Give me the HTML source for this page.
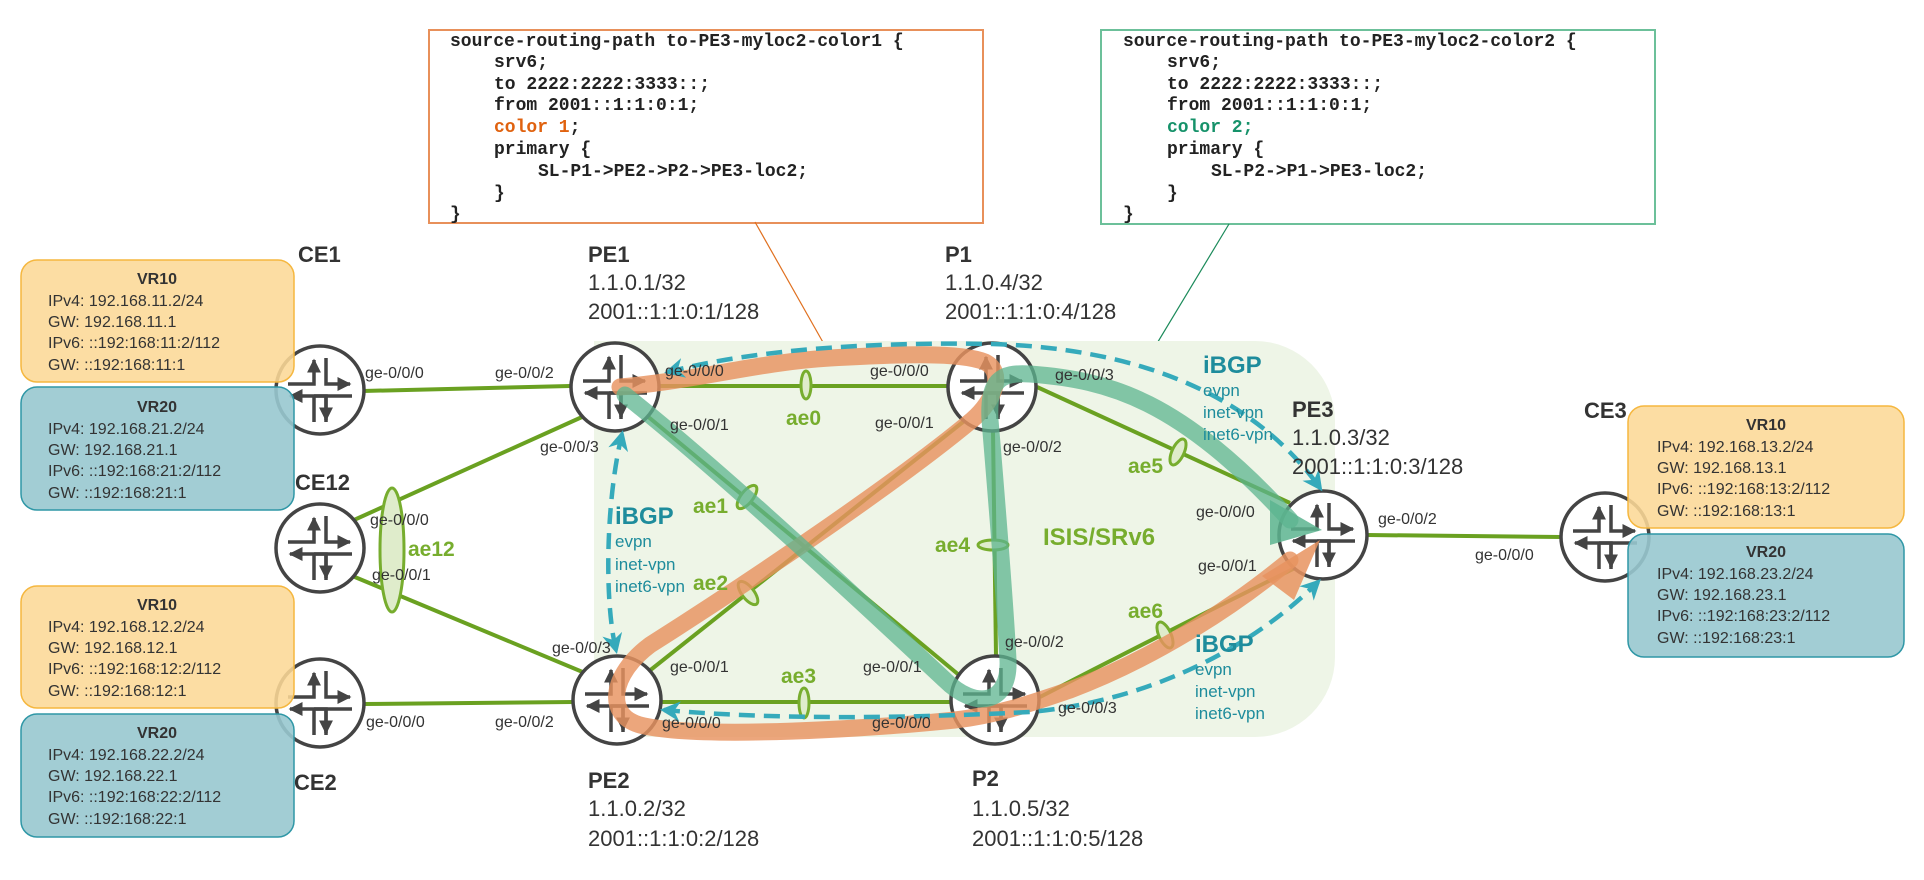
<!DOCTYPE html>
<html><head><meta charset="utf-8"><style>
html,body{margin:0;padding:0;background:#fff}
svg{display:block}
text{font-family:"Liberation Sans",sans-serif}
.mono text{font-family:"Liberation Mono",monospace;font-weight:bold;font-size:18px;fill:#222}
.if{font-size:16px;fill:#333}
.nm{font-size:22px;font-weight:bold;fill:#333}
.ad{font-size:22px;fill:#333}
.ae{font-size:21px;font-weight:bold;fill:#77ad2e}
.bg{font-size:24px;font-weight:bold;fill:#1e8c9c}
.bs{font-size:17px;fill:#1e8c9c}
.vt{font-size:16px;font-weight:bold;fill:#333}
.vl{font-size:16px;fill:#333}
</style></head><body>
<svg width="1924" height="880" viewBox="0 0 1924 880" xmlns="http://www.w3.org/2000/svg">
<defs>
<marker id="ar" viewBox="0 0 10 10" refX="9" refY="5" markerWidth="4" markerHeight="4" orient="auto-start-reverse"><path d="M0,0 L10,5 L0,10 z" fill="#444"/></marker>
<marker id="da" viewBox="0 0 10 10" refX="8" refY="5" markerWidth="4.5" markerHeight="4.5" orient="auto-start-reverse"><path d="M0,0 L10,5 L0,10 L3,5 z" fill="#35aabb"/></marker>
<g id="rt">
<circle r="44" fill="#fff" stroke="#444" stroke-width="3.5"/>
<g stroke="#444" stroke-width="3.5" fill="none">
<path d="M-32,-6 H-6 V-30" marker-end="url(#ar)"/>
<path d="M6,-32 V-6 H30" marker-end="url(#ar)"/>
<path d="M6,32 V6 H-30" marker-end="url(#ar)"/>
<path d="M32,6 H-6 M-6,6 V32" />
<path d="M6,6 V30" marker-end="url(#ar)"/>
</g>
</g>
</defs>

<!-- code boxes -->
<rect x="429" y="30" width="554" height="193" fill="#fff" stroke="#e8905a" stroke-width="2"/>
<line x1="755" y1="222" x2="833" y2="360" stroke="#e0701f" stroke-width="1.2"/>
<g class="mono">
<text x="450" y="46">source-routing-path to-PE3-myloc2-color1 {</text>
<text x="494" y="67">srv6;</text>
<text x="494" y="89">to 2222:2222:3333::;</text>
<text x="494" y="110">from 2001::1:1:0:1;</text>
<text x="494" y="132"><tspan fill="#e0620f">color 1</tspan>;</text>
<text x="494" y="154">primary {</text>
<text x="538" y="176">SL-P1-&gt;PE2-&gt;P2-&gt;PE3-loc2;</text>
<text x="494" y="198">}</text>
<text x="450" y="219">}</text>
</g>
<rect x="1101" y="30" width="554" height="194" fill="#fff" stroke="#6cc09a" stroke-width="2"/>
<line x1="1229" y1="224" x2="1118" y2="408" stroke="#1b8a5a" stroke-width="1.2"/>
<g class="mono">
<text x="1123" y="46">source-routing-path to-PE3-myloc2-color2 {</text>
<text x="1167" y="67">srv6;</text>
<text x="1167" y="89">to 2222:2222:3333::;</text>
<text x="1167" y="110">from 2001::1:1:0:1;</text>
<text x="1167" y="132" style="fill:#16926a">color 2;</text>
<text x="1167" y="154">primary {</text>
<text x="1211" y="176">SL-P2-&gt;P1-&gt;PE3-loc2;</text>
<text x="1167" y="198">}</text>
<text x="1123" y="219">}</text>
</g>

<!-- region -->
<path d="M594,341 H1255 A80,80 0 0 1 1335,421 V657 A80,80 0 0 1 1255,737 H594 Z" fill="#eef5e7"/>

<!-- links -->
<g stroke="#6aa121" stroke-width="4" fill="none">
<line x1="363" y1="391" x2="570" y2="386"/>
<line x1="354" y1="520" x2="582" y2="417"/>
<line x1="350" y1="575" x2="585" y2="673"/>
<line x1="364" y1="704" x2="573" y2="702"/>
<line x1="659" y1="386" x2="948" y2="386"/>
<line x1="640" y1="410" x2="965" y2="680"/>
<line x1="648" y1="672" x2="968" y2="418"/>
<line x1="661" y1="702" x2="951" y2="702"/>
<line x1="993" y1="431" x2="996" y2="656"/>
<line x1="1037" y1="387" x2="1290" y2="503"/>
<path d="M1040,697 Q1170,630 1297,567"/>
<line x1="1367" y1="535" x2="1561" y2="537"/>
</g>
<!-- ellipses -->
<g stroke="#77ad2e" stroke-width="3" fill="#dfeccb">
<ellipse cx="392" cy="550" rx="12" ry="62"/>
<ellipse cx="806" cy="385" rx="5" ry="14"/>
<ellipse cx="747" cy="497" rx="6" ry="14" transform="rotate(38 747 497)"/>
<ellipse cx="748" cy="593" rx="6" ry="14" transform="rotate(-38 748 593)"/>
<ellipse cx="804" cy="703" rx="5" ry="15"/>
<ellipse cx="993" cy="545" rx="15" ry="5"/>
<ellipse cx="1178" cy="452" rx="6" ry="14" transform="rotate(25 1178 452)"/>
<ellipse cx="1165" cy="635" rx="6" ry="14" transform="rotate(-25 1165 635)"/>
</g>

<!-- routers -->
<use href="#rt" x="320" y="390"/>
<use href="#rt" x="320" y="548"/>
<use href="#rt" x="320" y="703"/>
<use href="#rt" x="615" y="387"/>
<use href="#rt" x="992" y="387"/>
<use href="#rt" x="617" y="700"/>
<use href="#rt" x="995" y="700"/>
<use href="#rt" x="1323" y="535"/>
<use href="#rt" x="1605" y="537"/>

<!-- thick paths -->
<path d="M620,387 C700,380 760,362 830,358 C900,354 960,352 985,362 C1005,372 995,400 972,420 C900,480 760,575 650,645 C610,675 605,715 640,725 C700,740 880,728 955,720 C1000,715 1040,700 1070,690 C1150,660 1230,610 1290,560" fill="none" stroke="#e8935f" stroke-width="17" stroke-opacity="0.82" stroke-linecap="round"/>
<path d="M1262,576 L1320,540 L1294,600 Z" fill="#e8935f" fill-opacity="0.85"/>
<path d="M625,395 C720,470 870,610 945,680 C975,710 1010,705 1008,660 C1005,600 995,480 990,420 C988,380 1000,372 1030,374 C1110,380 1180,400 1290,520" fill="none" stroke="#5cb48f" stroke-width="17" stroke-opacity="0.75" stroke-linecap="round"/>
<path d="M1270,500 L1322,530 L1270,545 Z" fill="#5cb48f" fill-opacity="0.85"/>

<!-- dashed iBGP -->
<g stroke="#35aabb" stroke-width="4.5" fill="none" stroke-dasharray="16 9">
<path d="M668,372 C760,348 880,342 992,344 C1130,348 1250,390 1320,488" marker-start="url(#da)" marker-end="url(#da)"/>
<path d="M622,434 C606,500 604,600 616,650" marker-start="url(#da)" marker-end="url(#da)"/>
<path d="M664,710 C800,722 950,716 1030,712 C1160,700 1260,640 1318,582" marker-start="url(#da)" marker-end="url(#da)"/>
</g>

<!-- VR boxes -->
<g stroke-width="1.5">
<rect x="21" y="260" width="273" height="122" rx="16" fill="#fcd896" fill-opacity="0.88" stroke="#f5b73f"/>
<rect x="21" y="387" width="273" height="123" rx="16" fill="#98c8cf" fill-opacity="0.9" stroke="#2f97a6"/>
<rect x="21" y="586" width="273" height="122" rx="16" fill="#fcd896" fill-opacity="0.88" stroke="#f5b73f"/>
<rect x="21" y="714" width="273" height="123" rx="16" fill="#98c8cf" fill-opacity="0.9" stroke="#2f97a6"/>
<rect x="1628" y="406" width="276" height="122" rx="16" fill="#fcd896" fill-opacity="0.88" stroke="#f5b73f"/>
<rect x="1628" y="534" width="276" height="123" rx="16" fill="#98c8cf" fill-opacity="0.9" stroke="#2f97a6"/>
</g>
<g>
<text class="vt" x="157" y="284" text-anchor="middle">VR10</text>
<text class="vl" x="48" y="306">IPv4: 192.168.11.2/24</text>
<text class="vl" x="48" y="327">GW: 192.168.11.1</text>
<text class="vl" x="48" y="348">IPv6: ::192:168:11:2/112</text>
<text class="vl" x="48" y="370">GW: ::192:168:11:1</text>
<text class="vt" x="157" y="412" text-anchor="middle">VR20</text>
<text class="vl" x="48" y="434">IPv4: 192.168.21.2/24</text>
<text class="vl" x="48" y="455">GW: 192.168.21.1</text>
<text class="vl" x="48" y="476">IPv6: ::192:168:21:2/112</text>
<text class="vl" x="48" y="498">GW: ::192:168:21:1</text>
<text class="vt" x="157" y="610" text-anchor="middle">VR10</text>
<text class="vl" x="48" y="632">IPv4: 192.168.12.2/24</text>
<text class="vl" x="48" y="653">GW: 192.168.12.1</text>
<text class="vl" x="48" y="674">IPv6: ::192:168:12:2/112</text>
<text class="vl" x="48" y="696">GW: ::192:168:12:1</text>
<text class="vt" x="157" y="738" text-anchor="middle">VR20</text>
<text class="vl" x="48" y="760">IPv4: 192.168.22.2/24</text>
<text class="vl" x="48" y="781">GW: 192.168.22.1</text>
<text class="vl" x="48" y="802">IPv6: ::192:168:22:2/112</text>
<text class="vl" x="48" y="824">GW: ::192:168:22:1</text>
<text class="vt" x="1766" y="430" text-anchor="middle">VR10</text>
<text class="vl" x="1657" y="452">IPv4: 192.168.13.2/24</text>
<text class="vl" x="1657" y="473">GW: 192.168.13.1</text>
<text class="vl" x="1657" y="494">IPv6: ::192:168:13:2/112</text>
<text class="vl" x="1657" y="516">GW: ::192:168:13:1</text>
<text class="vt" x="1766" y="557" text-anchor="middle">VR20</text>
<text class="vl" x="1657" y="579">IPv4: 192.168.23.2/24</text>
<text class="vl" x="1657" y="600">GW: 192.168.23.1</text>
<text class="vl" x="1657" y="621">IPv6: ::192:168:23:2/112</text>
<text class="vl" x="1657" y="643">GW: ::192:168:23:1</text>
</g>

<!-- node labels -->
<text class="nm" x="298" y="262">CE1</text>
<text class="nm" x="295" y="490">CE12</text>
<text class="nm" x="294" y="790">CE2</text>
<text class="nm" x="1584" y="418">CE3</text>
<text class="nm" x="588" y="262">PE1</text>
<text class="ad" x="588" y="290">1.1.0.1/32</text>
<text class="ad" x="588" y="319">2001::1:1:0:1/128</text>
<text class="nm" x="945" y="262">P1</text>
<text class="ad" x="945" y="290">1.1.0.4/32</text>
<text class="ad" x="945" y="319">2001::1:1:0:4/128</text>
<text class="nm" x="1292" y="417">PE3</text>
<text class="ad" x="1292" y="445">1.1.0.3/32</text>
<text class="ad" x="1292" y="474">2001::1:1:0:3/128</text>
<text class="nm" x="588" y="788">PE2</text>
<text class="ad" x="588" y="816">1.1.0.2/32</text>
<text class="ad" x="588" y="846">2001::1:1:0:2/128</text>
<text class="nm" x="972" y="786">P2</text>
<text class="ad" x="972" y="816">1.1.0.5/32</text>
<text class="ad" x="972" y="846">2001::1:1:0:5/128</text>

<!-- interface labels -->
<g class="if">
<text x="365" y="378">ge-0/0/0</text>
<text x="495" y="378">ge-0/0/2</text>
<text x="665" y="376">ge-0/0/0</text>
<text x="670" y="430">ge-0/0/1</text>
<text x="540" y="452">ge-0/0/3</text>
<text x="870" y="376">ge-0/0/0</text>
<text x="875" y="428">ge-0/0/1</text>
<text x="1055" y="380">ge-0/0/3</text>
<text x="1003" y="452">ge-0/0/2</text>
<text x="370" y="525">ge-0/0/0</text>
<text x="372" y="580">ge-0/0/1</text>
<text x="552" y="653">ge-0/0/3</text>
<text x="670" y="672">ge-0/0/1</text>
<text x="366" y="727">ge-0/0/0</text>
<text x="495" y="727">ge-0/0/2</text>
<text x="662" y="728">ge-0/0/0</text>
<text x="863" y="672">ge-0/0/1</text>
<text x="1005" y="647">ge-0/0/2</text>
<text x="872" y="728">ge-0/0/0</text>
<text x="1058" y="713">ge-0/0/3</text>
<text x="1196" y="517">ge-0/0/0</text>
<text x="1198" y="571">ge-0/0/1</text>
<text x="1378" y="524">ge-0/0/2</text>
<text x="1475" y="560">ge-0/0/0</text>
</g>
<!-- ae labels -->
<g class="ae">
<text x="408" y="556">ae12</text>
<text x="786" y="425">ae0</text>
<text x="693" y="513">ae1</text>
<text x="693" y="590">ae2</text>
<text x="781" y="683">ae3</text>
<text x="935" y="552">ae4</text>
<text x="1128" y="473">ae5</text>
<text x="1128" y="618">ae6</text>
<text x="1043" y="545" font-size="24">ISIS/SRv6</text>
</g>
<!-- iBGP labels -->
<text class="bg" x="615" y="524">iBGP</text>
<text class="bs" x="615" y="547">evpn</text>
<text class="bs" x="615" y="570">inet-vpn</text>
<text class="bs" x="615" y="592">inet6-vpn</text>
<text class="bg" x="1203" y="373">iBGP</text>
<text class="bs" x="1203" y="396">evpn</text>
<text class="bs" x="1203" y="418">inet-vpn</text>
<text class="bs" x="1203" y="440">inet6-vpn</text>
<text class="bg" x="1195" y="652">iBGP</text>
<text class="bs" x="1195" y="675">evpn</text>
<text class="bs" x="1195" y="697">inet-vpn</text>
<text class="bs" x="1195" y="719">inet6-vpn</text>
</svg>
</body></html>
